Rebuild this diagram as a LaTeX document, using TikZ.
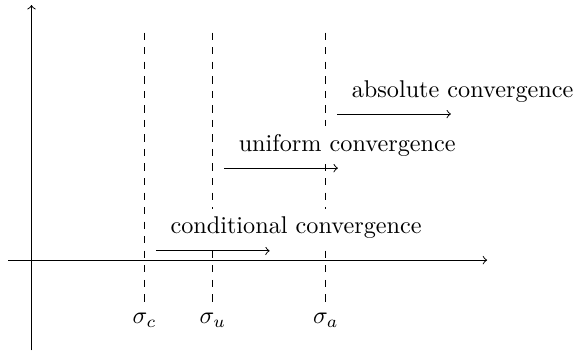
\documentclass[tikz,border=0pt]{standalone}
\usetikzlibrary{positioning}

\begin{document}
\begin{tikzpicture}[
  axis/.style={->},
  guide/.style={dashed},
  convarrow/.style={->},
  convtext/.style={anchor=base west,fill=white}
]
  \useasboundingbox (-0.457,-1.306) rectangle (7.90,3.774);
  % axes
  \coordinate (xfrom) at (-0.34,0);
  \coordinate (xto) at (6.61,0);
  \coordinate (yfrom) at (0,-1.31);
  \coordinate (yto) at (0,3.70);
  \draw[axis] (xfrom) -- (xto);
  \draw[axis] (yfrom) -- (yto);
  % abscissae
  \coordinate (ctop) at (1.64,3.30);
  \coordinate (cbot) at (1.64,-0.65);
  \coordinate (utop) at (2.63,3.30);
  \coordinate (ubot) at (2.63,-0.65);
  \coordinate (atop) at (4.27,3.30);
  \coordinate (abot) at (4.27,-0.65);
  \draw[guide] (ctop) -- (cbot);
  \draw[guide] (utop) -- (ubot);
  \draw[guide] (atop) -- (abot);
  \node[below] (sigc) at (cbot) {$\sigma_c$};
  \node[below] (sigu) at (ubot) {$\sigma_u$};
  \node[below] (siga) at (abot) {$\sigma_a$};
  % half-planes
  \coordinate (cfrom) at (1.805,0.135);
  \coordinate (cto) at ([xshift=1.65cm]cfrom);
  \coordinate (ufrom) at (2.795,1.335);
  \coordinate (uto) at ([xshift=1.65cm]ufrom);
  \coordinate (afrom) at (4.435,2.12);
  \coordinate (ato) at ([xshift=1.65cm]afrom);
  \draw[convarrow] (cfrom) -- (cto);
  \draw[convarrow] (ufrom) -- (uto);
  \draw[convarrow] (afrom) -- (ato);
  \node[convtext] (ctext) at ([shift={(0.088,0.25)}]cfrom) {conditional convergence};
  \node[convtext] (utext) at ([shift={(0.088,0.245)}]ufrom) {uniform convergence};
  \node[convtext] (atext) at ([shift={(0.088,0.245)}]afrom) {absolute convergence};
\end{tikzpicture}
\end{document}
